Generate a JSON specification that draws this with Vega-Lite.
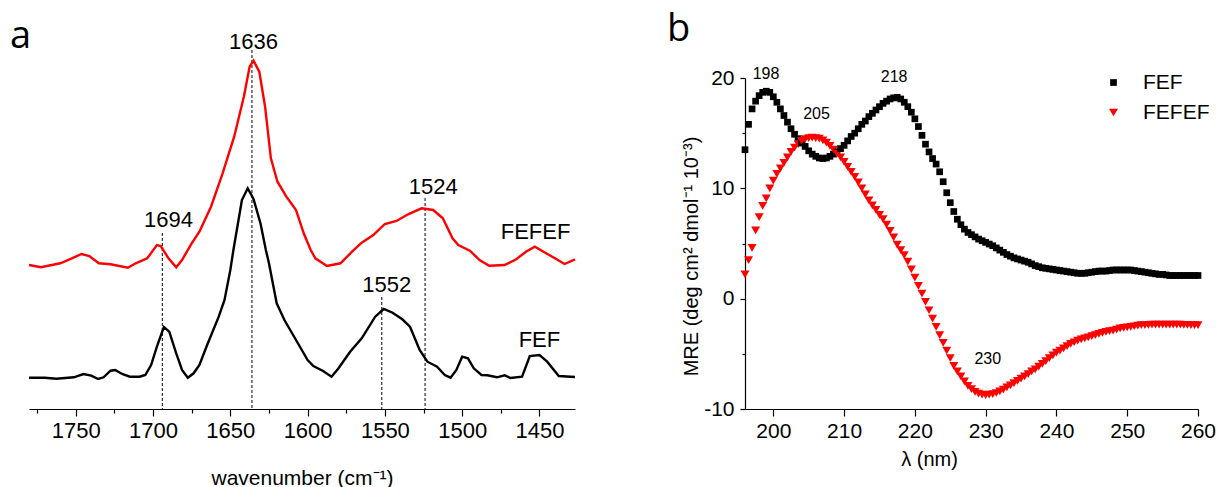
{
  "$schema": "https://vega.github.io/schema/vega-lite/v6.json",
  "padding": {"left": 10, "top": 10, "right": 5, "bottom": 5},
  "bounds": "flush",
  "spacing": 170,
  "resolve": {"scale": {"x": "independent", "y": "independent", "color": "independent", "shape": "independent", "size": "independent"}},
  "config": {
    "view": {"stroke": null},
    "font": "Liberation Sans",
    "axis": {"grid": false, "domainColor": "#000", "tickColor": "#000", "labelColor": "#000", "titleColor": "#000", "labelFont": "Liberation Sans", "titleFont": "Liberation Sans", "titleFontWeight": "normal", "domainWidth": 1.2, "tickWidth": 1.2, "labelFlush": false, "labelOverlap": false},
    "legend": {"labelFont": "Liberation Sans", "labelColor": "#000"}
  },
  "datasets": {
    "ir": [
      {"s":"FEF","wn":1780.25,"v":31.3},{"s":"FEF","wn":1770,"v":31.3},{"s":"FEF","wn":1762.5,"v":30.3},{"s":"FEF","wn":1751.25,"v":31.7},{"s":"FEF","wn":1745,"v":35},{"s":"FEF","wn":1740,"v":33.3},{"s":"FEF","wn":1735.5,"v":30},{"s":"FEF","wn":1732,"v":31.7},{"s":"FEF","wn":1727.5,"v":38.3},{"s":"FEF","wn":1724.5,"v":39},{"s":"FEF","wn":1720,"v":35},{"s":"FEF","wn":1715,"v":32.3},{"s":"FEF","wn":1708.75,"v":32.3},{"s":"FEF","wn":1705,"v":34},{"s":"FEF","wn":1701.25,"v":44},{"s":"FEF","wn":1697.5,"v":62.3},{"s":"FEF","wn":1693,"v":82},{"s":"FEF","wn":1689.5,"v":77.3},{"s":"FEF","wn":1685,"v":55.7},{"s":"FEF","wn":1681.25,"v":39},{"s":"FEF","wn":1677.5,"v":31.3},{"s":"FEF","wn":1673.75,"v":35.7},{"s":"FEF","wn":1670,"v":44},{"s":"FEF","wn":1665,"v":64},{"s":"FEF","wn":1657.5,"v":92.3},{"s":"FEF","wn":1653.75,"v":109},{"s":"FEF","wn":1650,"v":139},{"s":"FEF","wn":1648,"v":159},{"s":"FEF","wn":1642.5,"v":209},{"s":"FEF","wn":1638.75,"v":220.7},{"s":"FEF","wn":1635,"v":210},{"s":"FEF","wn":1630.5,"v":185.7},{"s":"FEF","wn":1627,"v":159},{"s":"FEF","wn":1625,"v":145.7},{"s":"FEF","wn":1620,"v":105.7},{"s":"FEF","wn":1615,"v":89},{"s":"FEF","wn":1607.5,"v":69},{"s":"FEF","wn":1600,"v":49},{"s":"FEF","wn":1596.25,"v":43},{"s":"FEF","wn":1590,"v":38},{"s":"FEF","wn":1584.5,"v":32.3},{"s":"FEF","wn":1580,"v":40.7},{"s":"FEF","wn":1572.5,"v":57.3},{"s":"FEF","wn":1565,"v":70.7},{"s":"FEF","wn":1556.25,"v":92.3},{"s":"FEF","wn":1550.75,"v":100},{"s":"FEF","wn":1545,"v":96.3},{"s":"FEF","wn":1538.75,"v":89.7},{"s":"FEF","wn":1533.75,"v":82.3},{"s":"FEF","wn":1527.5,"v":59},{"s":"FEF","wn":1522.5,"v":47.3},{"s":"FEF","wn":1516.25,"v":42.3},{"s":"FEF","wn":1511.25,"v":34},{"s":"FEF","wn":1507.5,"v":31.3},{"s":"FEF","wn":1503.75,"v":39},{"s":"FEF","wn":1500,"v":52.3},{"s":"FEF","wn":1496.25,"v":50.7},{"s":"FEF","wn":1492.5,"v":40.7},{"s":"FEF","wn":1487.5,"v":34},{"s":"FEF","wn":1483.75,"v":33.7},{"s":"FEF","wn":1477.5,"v":31.7},{"s":"FEF","wn":1472.5,"v":33.7},{"s":"FEF","wn":1468.75,"v":31},{"s":"FEF","wn":1461.25,"v":32.3},{"s":"FEF","wn":1456.25,"v":53},{"s":"FEF","wn":1450,"v":54},{"s":"FEF","wn":1445,"v":47.3},{"s":"FEF","wn":1437.5,"v":33},{"s":"FEF","wn":1427,"v":32},
      {"s":"FEFEF","wn":1780.25,"v":144},{"s":"FEFEF","wn":1772.5,"v":141.7},{"s":"FEFEF","wn":1760,"v":145.7},{"s":"FEFEF","wn":1752.5,"v":150.7},{"s":"FEFEF","wn":1746.25,"v":155},{"s":"FEFEF","wn":1741.25,"v":153},{"s":"FEFEF","wn":1735,"v":145.7},{"s":"FEFEF","wn":1727.5,"v":144.7},{"s":"FEFEF","wn":1716.25,"v":141.3},{"s":"FEFEF","wn":1711.25,"v":145.7},{"s":"FEFEF","wn":1703.75,"v":150.7},{"s":"FEFEF","wn":1697.5,"v":164},{"s":"FEFEF","wn":1695,"v":163},{"s":"FEFEF","wn":1690,"v":150.7},{"s":"FEFEF","wn":1685,"v":141.7},{"s":"FEFEF","wn":1681.25,"v":149},{"s":"FEFEF","wn":1675,"v":165.7},{"s":"FEFEF","wn":1670,"v":177.3},{"s":"FEFEF","wn":1662.5,"v":202.3},{"s":"FEFEF","wn":1655,"v":235.7},{"s":"FEFEF","wn":1647.5,"v":272.3},{"s":"FEFEF","wn":1641.25,"v":312.3},{"s":"FEFEF","wn":1637.5,"v":342.3},{"s":"FEFEF","wn":1635,"v":348.3},{"s":"FEFEF","wn":1631.25,"v":337.3},{"s":"FEFEF","wn":1627.5,"v":302.3},{"s":"FEFEF","wn":1623.75,"v":250.7},{"s":"FEFEF","wn":1619.5,"v":227.3},{"s":"FEFEF","wn":1613.75,"v":212.3},{"s":"FEFEF","wn":1607.5,"v":199},{"s":"FEFEF","wn":1602.5,"v":175.7},{"s":"FEFEF","wn":1598,"v":159},{"s":"FEFEF","wn":1595,"v":150.7},{"s":"FEFEF","wn":1587.5,"v":143},{"s":"FEFEF","wn":1578.75,"v":145.7},{"s":"FEFEF","wn":1571.25,"v":157.3},{"s":"FEFEF","wn":1565,"v":166.3},{"s":"FEFEF","wn":1557.5,"v":174},{"s":"FEFEF","wn":1550,"v":185},{"s":"FEFEF","wn":1542.5,"v":188},{"s":"FEFEF","wn":1535,"v":194.7},{"s":"FEFEF","wn":1526.25,"v":200.7},{"s":"FEFEF","wn":1518.75,"v":199},{"s":"FEFEF","wn":1512.5,"v":190.7},{"s":"FEFEF","wn":1506.25,"v":170.7},{"s":"FEFEF","wn":1502.5,"v":164},{"s":"FEFEF","wn":1495,"v":158.3},{"s":"FEFEF","wn":1488.75,"v":149},{"s":"FEFEF","wn":1482.5,"v":143.3},{"s":"FEFEF","wn":1472.5,"v":144},{"s":"FEFEF","wn":1465,"v":149.7},{"s":"FEFEF","wn":1458.75,"v":157.3},{"s":"FEFEF","wn":1453,"v":162.3},{"s":"FEFEF","wn":1446.25,"v":156.3},{"s":"FEFEF","wn":1440,"v":150.7},{"s":"FEFEF","wn":1433.75,"v":145},{"s":"FEFEF","wn":1427,"v":149.7}
    ],
    "irlines": [
      {"wn":1694,"top":176},{"wn":1636,"top":359},{"wn":1552,"top":112},{"wn":1524,"top":211}
    ],
    "irlabels": [
      {"label":"1636","wn":1635,"v":367},{"label":"1694","wn":1690,"v":189},{"label":"1524","wn":1518.75,"v":222},{"label":"1552","wn":1548.75,"v":124},{"label":"FEFEF","wn":1452.5,"v":177},{"label":"FEF","wn":1450,"v":69}
    ],
    "cd": [
      {"nm":196.0,"FEF":13.5,"FEFEF":2.2},{"nm":196.5,"FEF":15.8,"FEFEF":3.5},{"nm":197.0,"FEF":17.2,"FEFEF":4.6},{"nm":197.5,"FEF":17.9,"FEFEF":6.2},{"nm":198.0,"FEF":18.4,"FEFEF":7.4},{"nm":198.5,"FEF":18.7,"FEFEF":8.4},{"nm":199.0,"FEF":18.8,"FEFEF":9.1},{"nm":199.5,"FEF":18.7,"FEFEF":10.0},
      {"nm":200.0,"FEF":18.3,"FEFEF":10.7},{"nm":200.5,"FEF":17.8,"FEFEF":11.3},{"nm":201.0,"FEF":17.2,"FEFEF":11.8},{"nm":201.5,"FEF":16.6,"FEFEF":12.3},{"nm":202.0,"FEF":16.0,"FEFEF":12.8},{"nm":202.5,"FEF":15.4,"FEFEF":13.3},{"nm":203.0,"FEF":14.9,"FEFEF":13.7},{"nm":203.5,"FEF":14.5,"FEFEF":14.0},{"nm":204.0,"FEF":14.1,"FEFEF":14.3},{"nm":204.5,"FEF":13.8,"FEFEF":14.45},
      {"nm":205.0,"FEF":13.4,"FEFEF":14.55},{"nm":205.5,"FEF":13.1,"FEFEF":14.6},{"nm":206.0,"FEF":12.9,"FEFEF":14.55},{"nm":206.5,"FEF":12.75,"FEFEF":14.5},{"nm":207.0,"FEF":12.7,"FEFEF":14.35},{"nm":207.5,"FEF":12.75,"FEFEF":14.15},{"nm":208.0,"FEF":12.9,"FEFEF":13.85},{"nm":208.5,"FEF":13.1,"FEFEF":13.5},{"nm":209.0,"FEF":13.3,"FEFEF":13.15},{"nm":209.5,"FEF":13.6,"FEFEF":12.8},
      {"nm":210.0,"FEF":13.9,"FEFEF":12.4},{"nm":210.5,"FEF":14.3,"FEFEF":11.95},{"nm":211.0,"FEF":14.7,"FEFEF":11.5},{"nm":211.5,"FEF":15.0,"FEFEF":11.05},{"nm":212.0,"FEF":15.4,"FEFEF":10.55},{"nm":212.5,"FEF":15.8,"FEFEF":10.0},{"nm":213.0,"FEF":16.1,"FEFEF":9.45},{"nm":213.5,"FEF":16.5,"FEFEF":8.9},{"nm":214.0,"FEF":16.8,"FEFEF":8.45},{"nm":214.5,"FEF":17.1,"FEFEF":8.05},
      {"nm":215.0,"FEF":17.4,"FEFEF":7.6},{"nm":215.5,"FEF":17.7,"FEFEF":7.2},{"nm":216.0,"FEF":17.9,"FEFEF":6.7},{"nm":216.5,"FEF":18.1,"FEFEF":6.15},{"nm":217.0,"FEF":18.2,"FEFEF":5.55},{"nm":217.5,"FEF":18.25,"FEFEF":4.9},{"nm":218.0,"FEF":18.1,"FEFEF":4.4},{"nm":218.5,"FEF":17.8,"FEFEF":3.95},{"nm":219.0,"FEF":17.4,"FEFEF":3.35},{"nm":219.5,"FEF":16.9,"FEFEF":2.65},
      {"nm":220.0,"FEF":16.3,"FEFEF":1.9},{"nm":220.5,"FEF":15.6,"FEFEF":1.15},{"nm":221.0,"FEF":14.8,"FEFEF":0.45},{"nm":221.5,"FEF":14.0,"FEFEF":-0.3},{"nm":222.0,"FEF":13.3,"FEFEF":-1.05},{"nm":222.5,"FEF":12.7,"FEFEF":-1.8},{"nm":223.0,"FEF":12.2,"FEFEF":-2.55},{"nm":223.5,"FEF":11.5,"FEFEF":-3.3},{"nm":224.0,"FEF":10.6,"FEFEF":-4.0},{"nm":224.5,"FEF":9.6,"FEFEF":-4.7},
      {"nm":225.0,"FEF":8.7,"FEFEF":-5.4},{"nm":225.5,"FEF":7.9,"FEFEF":-6.1},{"nm":226.0,"FEF":7.2,"FEFEF":-6.6},{"nm":226.5,"FEF":6.7,"FEFEF":-7.05},{"nm":227.0,"FEF":6.3,"FEFEF":-7.5},{"nm":227.5,"FEF":6.0,"FEFEF":-7.9},{"nm":228.0,"FEF":5.8,"FEFEF":-8.2},{"nm":228.5,"FEF":5.6,"FEFEF":-8.45},{"nm":229.0,"FEF":5.4,"FEFEF":-8.6},{"nm":229.5,"FEF":5.25,"FEFEF":-8.7},
      {"nm":230.0,"FEF":5.1,"FEFEF":-8.75},{"nm":230.5,"FEF":4.95,"FEFEF":-8.7},{"nm":231.0,"FEF":4.8,"FEFEF":-8.65},{"nm":231.5,"FEF":4.6,"FEFEF":-8.55},{"nm":232.0,"FEF":4.4,"FEFEF":-8.4},{"nm":232.5,"FEF":4.2,"FEFEF":-8.25},{"nm":233.0,"FEF":4.0,"FEFEF":-8.05},{"nm":233.5,"FEF":3.85,"FEFEF":-7.85},{"nm":234.0,"FEF":3.7,"FEFEF":-7.65},{"nm":234.5,"FEF":3.6,"FEFEF":-7.45},
      {"nm":235.0,"FEF":3.5,"FEFEF":-7.25},{"nm":235.5,"FEF":3.4,"FEFEF":-7.05},{"nm":236.0,"FEF":3.3,"FEFEF":-6.85},{"nm":236.5,"FEF":3.15,"FEFEF":-6.6},{"nm":237.0,"FEF":3.0,"FEFEF":-6.4},{"nm":237.5,"FEF":2.9,"FEFEF":-6.15},{"nm":238.0,"FEF":2.8,"FEFEF":-5.9},{"nm":238.5,"FEF":2.75,"FEFEF":-5.65},{"nm":239.0,"FEF":2.7,"FEFEF":-5.4},{"nm":239.5,"FEF":2.65,"FEFEF":-5.15},
      {"nm":240.0,"FEF":2.6,"FEFEF":-4.9},{"nm":240.5,"FEF":2.55,"FEFEF":-4.7},{"nm":241.0,"FEF":2.5,"FEFEF":-4.5},{"nm":241.5,"FEF":2.45,"FEFEF":-4.3},{"nm":242.0,"FEF":2.4,"FEFEF":-4.1},{"nm":242.5,"FEF":2.35,"FEFEF":-3.95},{"nm":243.0,"FEF":2.3,"FEFEF":-3.8},{"nm":243.5,"FEF":2.3,"FEFEF":-3.7},{"nm":244.0,"FEF":2.3,"FEFEF":-3.6},{"nm":244.5,"FEF":2.35,"FEFEF":-3.5},
      {"nm":245.0,"FEF":2.4,"FEFEF":-3.4},{"nm":245.5,"FEF":2.45,"FEFEF":-3.3},{"nm":246.0,"FEF":2.5,"FEFEF":-3.2},{"nm":246.5,"FEF":2.5,"FEFEF":-3.1},{"nm":247.0,"FEF":2.5,"FEFEF":-3.0},{"nm":247.5,"FEF":2.55,"FEFEF":-2.95},{"nm":248.0,"FEF":2.6,"FEFEF":-2.9},{"nm":248.5,"FEF":2.6,"FEFEF":-2.8},{"nm":249.0,"FEF":2.6,"FEFEF":-2.7},{"nm":249.5,"FEF":2.6,"FEFEF":-2.65},
      {"nm":250.0,"FEF":2.6,"FEFEF":-2.6},{"nm":250.5,"FEF":2.6,"FEFEF":-2.55},{"nm":251.0,"FEF":2.55,"FEFEF":-2.5},{"nm":251.5,"FEF":2.5,"FEFEF":-2.45},{"nm":252.0,"FEF":2.45,"FEFEF":-2.4},{"nm":252.5,"FEF":2.4,"FEFEF":-2.4},{"nm":253.0,"FEF":2.35,"FEFEF":-2.38},{"nm":253.5,"FEF":2.3,"FEFEF":-2.36},{"nm":254.0,"FEF":2.25,"FEFEF":-2.35},{"nm":254.5,"FEF":2.2,"FEFEF":-2.35},
      {"nm":255.0,"FEF":2.2,"FEFEF":-2.35},{"nm":255.5,"FEF":2.15,"FEFEF":-2.35},{"nm":256.0,"FEF":2.1,"FEFEF":-2.35},{"nm":256.5,"FEF":2.1,"FEFEF":-2.35},{"nm":257.0,"FEF":2.1,"FEFEF":-2.35},{"nm":257.5,"FEF":2.1,"FEFEF":-2.35},{"nm":258.0,"FEF":2.1,"FEFEF":-2.37},{"nm":258.5,"FEF":2.1,"FEFEF":-2.38},{"nm":259.0,"FEF":2.1,"FEFEF":-2.4},{"nm":259.5,"FEF":2.1,"FEFEF":-2.4},
      {"nm":260.0,"FEF":2.1,"FEFEF":-2.4}
    ],
    "cdlabels": [
      {"label":"198","nm":198.97,"y":20.4},{"label":"218","nm":217.07,"y":20.1},{"label":"205","nm":206.1,"y":16.7},{"label":"230","nm":230.3,"y":-5.5}
    ]
  },
  "hconcat": [
    {
      "width": 546,
      "height": 331,
      "title": {"text": "a", "anchor": "start", "frame": "group", "baseline": "alphabetic", "font": "Open Sans", "fontSize": 38, "fontWeight": "normal", "color": "#000", "dx": -19, "offset": -55},
      "layer": [
        {
          "data": {"name": "irlines"},
          "mark": {"type": "rule", "strokeDash": [3, 2], "strokeWidth": 1, "color": "#000"},
          "encoding": {
            "x": {"field": "wn", "type": "quantitative", "scale": {"domain": [1427, 1780.25], "reverse": true, "nice": false, "zero": false},
              "axis": {"values": [1450, 1475, 1500, 1525, 1550, 1575, 1600, 1625, 1650, 1675, 1700, 1725, 1750, 1775], "format": "d",
                "labelExpr": "datum.value % 50 === 0 ? datum.label : ''",
                "tickSize": {"condition": {"test": "datum.value % 50 === 0", "value": 7}, "value": 4},
                "labelFontSize": 22, "labelPadding": 4, "title": "wavenumber (cm⁻¹)", "titleFontSize": 21, "titlePadding": 26}},
            "y": {"field": "top", "type": "quantitative", "scale": {"domain": [0, 331], "nice": false, "zero": false}, "axis": null},
            "y2": {"datum": 0}
          }
        },
        {
          "data": {"name": "ir"},
          "mark": {"type": "line", "strokeWidth": 2.4},
          "encoding": {
            "x": {"field": "wn", "type": "quantitative"},
            "y": {"field": "v", "type": "quantitative"},
            "color": {"field": "s", "type": "nominal", "scale": {"domain": ["FEF", "FEFEF"], "range": ["#000000", "#ff0000"]}, "legend": null}
          }
        },
        {
          "data": {"name": "irlabels"},
          "mark": {"type": "text", "fontSize": 22, "font": "Liberation Sans", "color": "#000", "align": "center", "baseline": "middle"},
          "encoding": {
            "x": {"field": "wn", "type": "quantitative"},
            "y": {"field": "v", "type": "quantitative"},
            "text": {"field": "label"}
          }
        }
      ]
    },
    {
      "width": 453,
      "height": 331,
      "title": {"text": "b", "anchor": "start", "frame": "group", "baseline": "alphabetic", "font": "Open Sans", "fontSize": 38, "fontWeight": "normal", "color": "#000", "dx": -78, "offset": -13},
      "layer": [
        {
          "data": {"name": "cd"},
          "transform": [{"fold": ["FEF", "FEFEF"], "as": ["sample", "MRE"]}],
          "mark": {"type": "point", "filled": true, "opacity": 1},
          "encoding": {
            "x": {"field": "nm", "type": "quantitative", "scale": {"domain": [196, 260], "nice": false, "zero": false},
              "axis": {"values": [200, 205, 210, 215, 220, 225, 230, 235, 240, 245, 250, 255, 260], "format": "d",
                "labelExpr": "datum.value % 10 === 0 ? datum.label : ''",
                "tickSize": {"condition": {"test": "datum.value % 10 === 0", "value": 7}, "value": 4},
                "labelFontSize": 21, "labelPadding": 4, "title": "λ (nm)", "titleFontSize": 20, "titlePadding": 8, "titleX": 184}},
            "y": {"field": "MRE", "type": "quantitative", "scale": {"domain": [-10, 20], "nice": false, "zero": false},
              "axis": {"values": [-10, -5, 0, 5, 10, 15, 20], "format": "d",
                "labelExpr": "datum.value % 10 === 0 ? replace(datum.label, '−', '-') : ''",
                "tickSize": {"condition": {"test": "datum.value % 10 === 0", "value": 5}, "value": 3},
                "labelFontSize": 21, "labelPadding": 6, "title": "MRE (deg cm² dmol⁻¹ 10⁻³)", "titleFontSize": 20, "titlePadding": 2, "titleY": 178}},
            "color": {"field": "sample", "type": "nominal", "scale": {"domain": ["FEF", "FEFEF"], "range": ["#000000", "#ff0000"]},
              "legend": {"orient": "none", "legendX": 358, "legendY": -6, "title": null, "labelFontSize": 21, "symbolSize": 60, "rowPadding": 8, "labelOffset": 19, "padding": 0, "symbolStrokeWidth": 0}},
            "shape": {"field": "sample", "type": "nominal", "scale": {"domain": ["FEF", "FEFEF"], "range": ["square", "triangle-down"]}},
            "size": {"field": "sample", "type": "nominal", "scale": {"domain": ["FEF", "FEFEF"], "range": [45, 80]}, "legend": null}
          }
        },
        {
          "data": {"name": "cdlabels"},
          "mark": {"type": "text", "fontSize": 16, "font": "Liberation Sans", "color": "#000", "align": "center", "baseline": "middle"},
          "encoding": {
            "x": {"field": "nm", "type": "quantitative"},
            "y": {"field": "y", "type": "quantitative"},
            "text": {"field": "label"}
          }
        }
      ]
    }
  ]
}
